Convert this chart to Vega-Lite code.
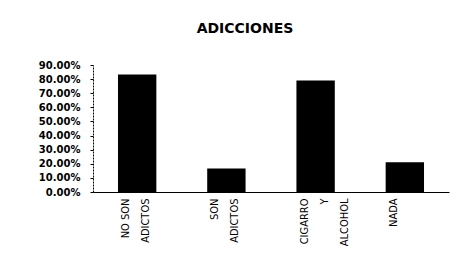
{
  "$schema": "https://vega.github.io/schema/vega-lite/v6.json",
  "width": 356,
  "height": 127,
  "autosize": {"type": "none"},
  "padding": {"left": 93, "top": 65, "right": 20, "bottom": 66},
  "background": "white",
  "title": {
    "text": "ADICCIONES",
    "font": "DejaVu Sans",
    "fontSize": 14,
    "fontWeight": "bold",
    "color": "black",
    "anchor": "middle",
    "dx": -26,
    "offset": 24
  },
  "data": {
    "values": [
      {"categoria": "NO SON|ADICTOS", "porcentaje": 0.8333},
      {"categoria": "SON|ADICTOS", "porcentaje": 0.1667},
      {"categoria": "CIGARRO|Y|ALCOHOL", "porcentaje": 0.79},
      {"categoria": "NADA", "porcentaje": 0.21}
    ]
  },
  "mark": {"type": "bar", "color": "black"},
  "encoding": {
    "x": {
      "field": "categoria",
      "type": "nominal",
      "sort": null,
      "scale": {"paddingInner": 0.57, "paddingOuter": 0.28},
      "axis": {
        "title": null,
        "labelAngle": -90,
        "labelAlign": "right",
        "labelBaseline": "middle",
        "labelExpr": "split(datum.label, '|')",
        "labelFont": "DejaVu Sans Condensed",
        "labelFontSize": 11,
        "labelFontWeight": "normal",
        "labelColor": "black",
        "labelLineHeight": 20,
        "labelPadding": 6,
        "labelOffset": -11,
        "ticks": false,
        "domainColor": "black",
        "domainWidth": 1.2
      }
    },
    "y": {
      "field": "porcentaje",
      "type": "quantitative",
      "scale": {"domain": [0, 0.9], "nice": false},
      "axis": {
        "title": null,
        "values": [0, 0.1, 0.2, 0.3, 0.4, 0.5, 0.6, 0.7, 0.8, 0.9],
        "format": ".2%",
        "grid": false,
        "labelFont": "DejaVu Sans",
        "labelFontSize": 10,
        "labelFontWeight": "bold",
        "labelColor": "black",
        "labelPadding": 10,
        "tickSize": 3,
        "tickColor": "black",
        "domainColor": "black",
        "domainDash": [2, 1]
      }
    }
  },
  "config": {"view": {"stroke": null}}
}
